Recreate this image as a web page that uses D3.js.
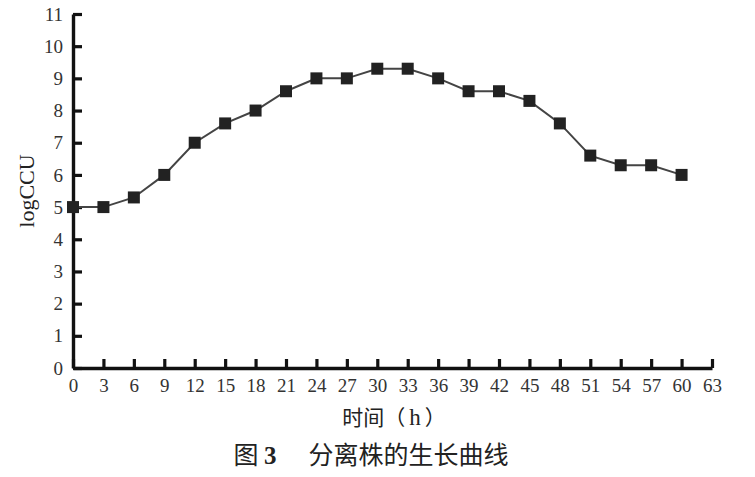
<!DOCTYPE html>
<html>
<head>
<meta charset="utf-8">
<script src="https://cdn.jsdelivr.net/npm/d3@7"></script>
<style>
  body { margin: 0; background: #fff; }
  svg { display: block; }
</style>
</head>
<body>
<svg id="chart" width="755" height="477"></svg>
<script>
// Sampling times (h) and log CCU values
const hours = [0, 3, 6, 9, 12, 15, 18, 21, 24, 27, 30, 33, 36, 39, 42, 45, 48, 51, 54, 57, 60];
const logCCU = [5, 5, 5.3, 6, 7, 7.6, 8, 8.6, 9, 9, 9.3, 9.3, 9, 8.6, 8.6, 8.3, 7.6, 6.6, 6.3, 6.3, 6];
const xTicks = d3.range(0, 64, 3);
const yTicks = d3.range(0, 12, 1);

const svg = d3.select("#chart");
const serif = "'Liberation Serif', 'DejaVu Serif', serif";
const cjk = "'Noto Sans CJK SC', sans-serif";

// Plot area
const x = d3.scaleLinear().domain([0, 63]).range([73, 712]);
const y = d3.scaleLinear().domain([0, 11]).range([368, 14]);

// Axes (ticks point inward, as in the figure)
const xAxis = svg.append("g")
  .attr("transform", `translate(0, ${y(0)})`)
  .call(d3.axisBottom(x).tickValues(xTicks).tickSizeInner(-9).tickSizeOuter(0).tickPadding(13));
const yAxis = svg.append("g")
  .attr("transform", `translate(${x(0)}, 0)`)
  .call(d3.axisLeft(y).tickValues(yTicks).tickSizeInner(-9).tickSizeOuter(0).tickPadding(10));

[xAxis, yAxis].forEach(a => {
  a.select(".domain").attr("stroke", "#111").attr("stroke-width", 3.4);
  a.selectAll(".tick line").attr("stroke", "#111").attr("stroke-width", 3.2);
  a.selectAll(".tick text")
    .attr("fill", "#333")
    .style("font-family", serif)
    .style("font-size", "19px");
});
xAxis.selectAll(".tick text").attr("dy", "0.6em");
yAxis.selectAll(".tick text").attr("dy", "0.32em");

// Growth curve
const line = d3.line()
  .x((d, i) => x(hours[i]))
  .y(d => y(d));

svg.append("path")
  .datum(logCCU)
  .attr("fill", "none")
  .attr("stroke", "#444")
  .attr("stroke-width", 2)
  .attr("d", line);

const size = 12;
svg.append("g")
  .selectAll("rect")
  .data(logCCU)
  .join("rect")
    .attr("x", (d, i) => x(hours[i]) - size / 2)
    .attr("y", d => y(d) - size / 2)
    .attr("width", size)
    .attr("height", size)
    .attr("fill", "#222");

// Axis titles
svg.append("text")
  .attr("transform", `translate(34, ${y(5.5)}) rotate(-90)`)
  .attr("text-anchor", "middle")
  .attr("fill", "#222")
  .style("font-family", serif)
  .style("font-size", "22px")
  .text("logCCU");

const xt = svg.append("text")
  .attr("x", 394)
  .attr("y", 425)
  .attr("text-anchor", "middle")
  .attr("fill", "#222")
  .style("font-family", cjk)
  .style("font-size", "21px");
xt.append("tspan").text("时间（");
xt.append("tspan").attr("dx", 4).style("font-family", serif).style("font-size", "23px").text("h");
xt.append("tspan").attr("dx", 4).text("）");

// Figure caption
const cap = svg.append("text")
  .attr("x", 371)
  .attr("y", 464)
  .attr("text-anchor", "middle")
  .attr("fill", "#222")
  .style("font-family", cjk)
  .style("font-size", "25px");
cap.append("tspan").text("图 ");
cap.append("tspan").attr("font-weight", "bold").style("font-family", serif).text("3");
cap.append("tspan").attr("dx", 32).text("分离株的生长曲线");
</script>
</body>
</html>
